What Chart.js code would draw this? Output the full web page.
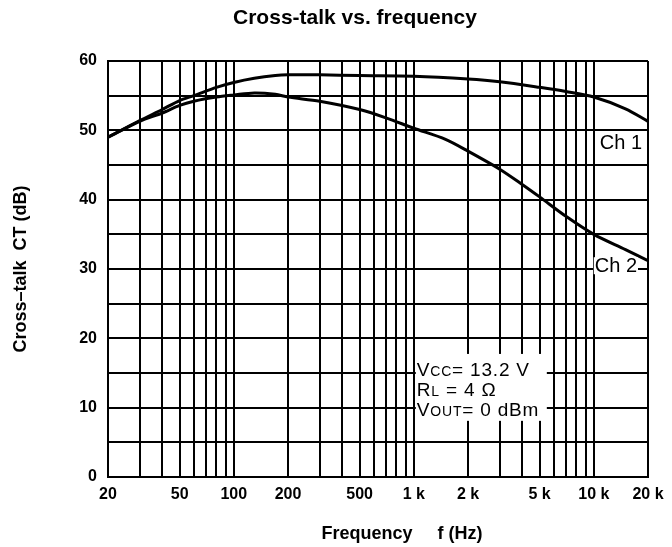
<!DOCTYPE html>
<html>
<head>
<meta charset="utf-8">
<title>Cross-talk vs. frequency</title>
<script src="https://cdn.jsdelivr.net/npm/chart.js@4.4.1/dist/chart.umd.min.js"></script>
<style>
  html, body { margin: 0; padding: 0; background: #fff; }
  #wrap { width: 672px; height: 547px; position: relative; }
</style>
</head>
<body>
<div id="wrap"><canvas id="chart"></canvas></div>
<script>
const chartTitle = 'Cross-talk vs. frequency';
const xTitle = 'Frequency     f (Hz)';
const yTitle = 'Cross–talk  CT (dB)';

// log grid: every 1-2-3..9 step of each decade
const gridFreqs = [20, 30, 40, 50, 60, 70, 80, 90,
  100, 200, 300, 400, 500, 600, 700, 800, 900,
  1000, 2000, 3000, 4000, 5000, 6000, 7000, 8000, 9000,
  10000, 20000];
const freqTickValues = [20, 50, 100, 200, 500, 1000, 2000, 5000, 10000, 20000];
const freqTickLabels = ['20', '50', '100', '200', '500', '1 k', '2 k', '5 k', '10 k', '20 k'];
const dbMin = 0, dbMax = 60, dbGridStep = 5, dbLabelStep = 10;

const ch1Freq = [20, 30, 40, 50, 60, 80, 100, 130, 170, 200, 300, 500, 1000, 2000, 3000, 5000, 7000, 10000, 15000, 20000];
const ch1Db   = [49.0, 51.4, 53.0, 54.3, 55.0, 56.2, 56.9, 57.5, 57.9, 58.0, 58.0, 57.9, 57.8, 57.4, 57.0, 56.2, 55.6, 54.8, 53.1, 51.3];
const ch2Freq = [20, 30, 40, 50, 60, 80, 100, 130, 170, 200, 300, 500, 700, 1000, 1500, 2000, 3000, 4000, 5000, 7000, 10000, 15000, 20000];
const ch2Db   = [49.0, 51.3, 52.5, 53.6, 54.2, 54.8, 55.1, 55.4, 55.2, 54.8, 54.2, 53.0, 51.8, 50.3, 48.7, 47.0, 44.4, 42.2, 40.4, 37.6, 35.0, 32.8, 31.2];

const curveLabels = ['Ch 1', 'Ch 2'];
const conditions = [
  [['V', 1], ['CC', 0], ['= 13.2 V', 1]],
  [['R', 1], ['L', 0], [' = 4 Ω', 1]],
  [['V', 1], ['OUT', 0], ['= 0 dBm', 1]]
];

const FONT = '"Liberation Sans", Arial, Helvetica, sans-serif';

function toPoints(fs, vs) {
  return fs.map((f, i) => ({ x: f, y: vs[i] }));
}

const overlay = {
  id: 'overlay',
  afterDraw(chart) {
    const { ctx, chartArea: a, scales: { x, y } } = chart;
    ctx.save();
    ctx.fillStyle = '#000';
    ctx.textBaseline = 'middle';

    // title
    ctx.font = 'bold 21px ' + FONT;
    ctx.textAlign = 'center';
    ctx.fillText(chartTitle, 355, 18);

    // axis titles
    ctx.font = 'bold 18px ' + FONT;
    ctx.fillText(xTitle, 402, 534);
    ctx.save();
    ctx.translate(21, 269);
    ctx.rotate(-Math.PI / 2);
    ctx.fillText(yTitle, 0, 0);
    ctx.restore();

    // curve labels
    ctx.font = '20px ' + FONT;
    ctx.textAlign = 'right';
    ctx.fillText(curveLabels[0], a.right - 6, 143);
    let ly = y.getPixelForValue(30.4);
    let w = ctx.measureText(curveLabels[1]).width;
    ctx.fillStyle = '#fff';
    ctx.fillRect(a.right - 12 - w, ly - 9, w + 2, 17);
    ctx.fillStyle = '#000';
    ctx.fillText(curveLabels[1], a.right - 11, ly);

    // conditions box
    const bx = x.getPixelForValue(1000) + 2;
    const bTop = y.getPixelForValue(17.75);
    const bBot = y.getPixelForValue(8.1);
    ctx.fillStyle = '#fff';
    ctx.fillRect(bx, bTop, 131, bBot - bTop);
    ctx.fillStyle = '#000';
    ctx.textAlign = 'left';
    ctx.textBaseline = 'alphabetic';
    ctx.letterSpacing = '0.8px';
    const big = 19, small = 14;
    conditions.forEach((line, i) => {
      let cx = bx + 1;
      const base = bTop + 22 + i * 20;
      line.forEach(([txt, isBig]) => {
        ctx.font = (isBig ? big : small) + 'px ' + FONT;
        ctx.fillText(txt, cx, base);
        cx += ctx.measureText(txt).width;
      });
    });
    ctx.restore();
  }
};

new Chart(document.getElementById('chart'), {
  type: 'line',
  data: {
    datasets: [
      {
        label: curveLabels[0],
        data: toPoints(ch1Freq, ch1Db),
        borderColor: '#000',
        borderWidth: 3,
        pointRadius: 0,
        tension: 0.3
      },
      {
        label: curveLabels[1],
        data: toPoints(ch2Freq, ch2Db),
        borderColor: '#000',
        borderWidth: 3,
        pointRadius: 0,
        tension: 0.3
      }
    ]
  },
  options: {
    responsive: true,
    maintainAspectRatio: false,
    animation: false,
    layout: { padding: { top: 61, right: 24, left: 0, bottom: 0 } },
    plugins: {
      legend: { display: false },
      title: { display: false },
      tooltip: { enabled: false }
    },
    scales: {
      x: {
        type: 'logarithmic',
        min: 20,
        max: 20000,
        afterBuildTicks: (scale) => { scale.ticks = gridFreqs.map(v => ({ value: v })); },
        afterFit: (scale) => { scale.height = 70; },
        grid: { color: '#000', lineWidth: 2, drawTicks: false },
        border: { color: '#000', width: 2 },
        ticks: {
          autoSkip: false,
          maxRotation: 0,
          padding: 8,
          color: '#000',
          font: { family: FONT, size: 16, weight: 'bold' },
          callback: (v) => {
            const i = freqTickValues.indexOf(v);
            return i >= 0 ? freqTickLabels[i] : '';
          }
        }
      },
      y: {
        min: dbMin,
        max: dbMax,
        afterFit: (scale) => { scale.width = 108; },
        grid: { color: '#000', lineWidth: 2, drawTicks: false },
        border: { color: '#000', width: 2 },
        ticks: {
          stepSize: dbGridStep,
          padding: 11,
          color: '#000',
          font: { family: FONT, size: 16, weight: 'bold' },
          callback: (v) => (v % dbLabelStep === 0 ? String(v) : '')
        }
      }
    }
  },
  plugins: [overlay]
});
</script>
</body>
</html>
